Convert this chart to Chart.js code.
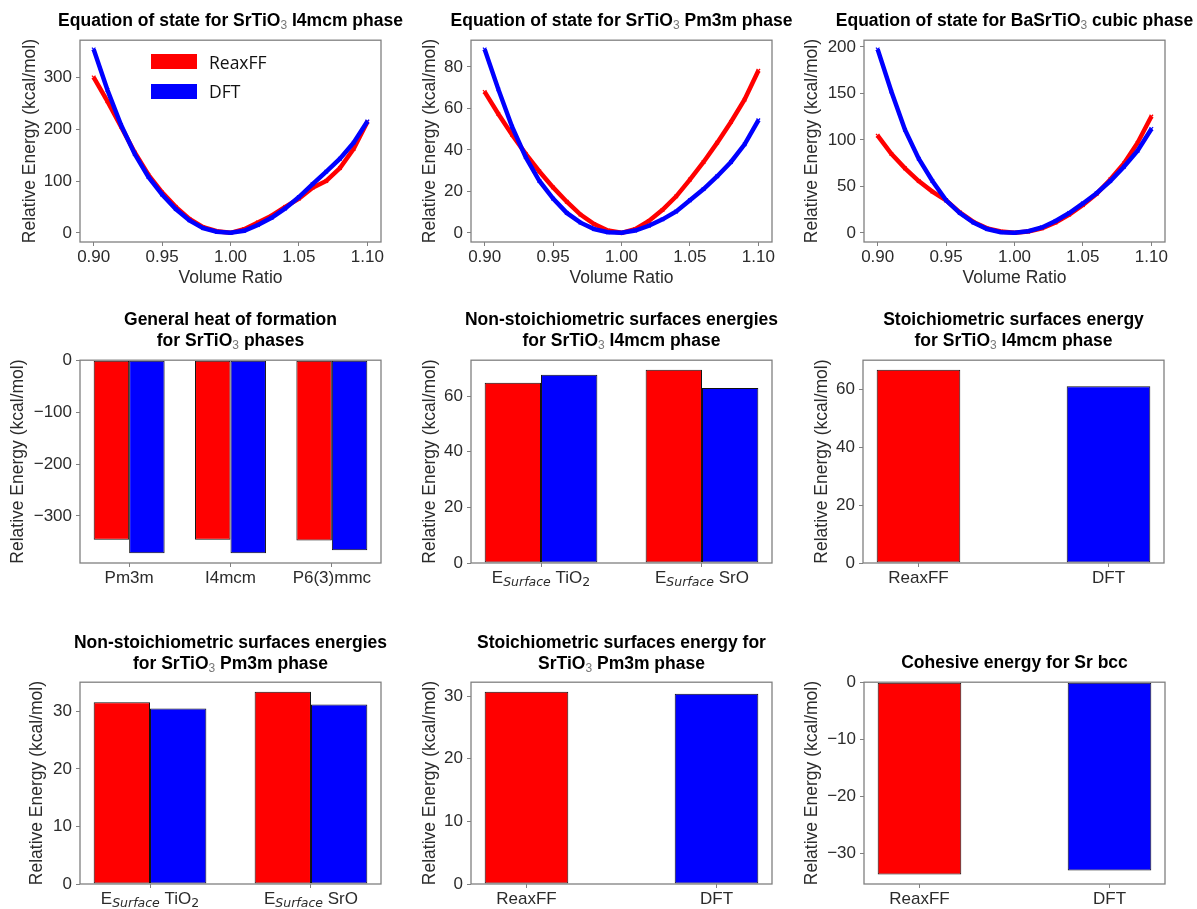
<!DOCTYPE html>
<html>
<head>
<meta charset="utf-8">
<script src="https://cdn.jsdelivr.net/npm/chart.js@4.4.0/dist/chart.umd.min.js"></script>
<style>
body { margin: 0; background: #fff; width: 1197px; height: 909px; position: relative; overflow: hidden;
       font-family: "Liberation Sans", Arial, sans-serif; }
canvas { position: absolute; }
.ttl { position: absolute; width: 420px; text-align: center; font-weight: bold; font-size: 17.5px;
       line-height: 21px; color: #000; white-space: nowrap; }
.ttl sub { font-weight: normal; font-size: 12px; color: #777; vertical-align: -3px; line-height: 0; }
.leg { position: absolute; display: flex; align-items: center; font-family: "Open Sans", sans-serif;
       font-size: 17.5px; color: #111; height: 15px; }
.leg span { display: inline-block; width: 46px; height: 15px; margin-right: 12px; }
</style>
</head>
<body>
<script>
// ---- data ----
const seriesNames = ["ReaxFF", "DFT"];
const seriesColors = ["#ff0000", "#0000ff"];

const volumeRatio = [0.90, 0.91, 0.92, 0.93, 0.94, 0.95, 0.96, 0.97, 0.98, 0.99, 1.00,
                     1.01, 1.02, 1.03, 1.04, 1.05, 1.06, 1.07, 1.08, 1.09, 1.10];
const volumeTicks = [0.90, 0.95, 1.00, 1.05, 1.10];

const eosI4mcmReax = [300, 254, 205, 155, 112, 78, 50, 27, 11, 3, 0, 7, 20, 33, 50, 66, 87, 100, 125, 162, 214];
const eosI4mcmDft  = [354, 276, 208, 152, 108, 74, 46, 24, 9, 2, 0, 4, 15, 29, 47, 69, 94, 118, 143, 174, 215];
const eosPm3mReax  = [68, 57.3, 47.3, 38.1, 29.6, 21.9, 15, 8.8, 4.2, 1.1, 0, 1.8, 5.7, 11.1, 17.6, 25.7, 34.2, 43.5, 53.5, 64.3, 78.2];
const eosPm3mDft   = [88.5, 69.2, 51.2, 36.5, 25, 16.5, 9.6, 4.9, 1.8, 0.3, 0, 1.1, 3.4, 6.5, 10.3, 15.7, 21.1, 27.3, 34.2, 42.7, 54.3];
const eosBstReax   = [104.5, 84.9, 69.4, 55.7, 44.3, 35, 22, 11.7, 4.8, 1.4, 0, 1.4, 4.8, 11, 19.6, 29.9, 41.9, 57.4, 74.6, 96.9, 125.1];
const eosBstDft    = [197.3, 152, 110.7, 79.7, 55.7, 35, 21.3, 11, 4.1, 0.7, 0, 1.7, 5.8, 12.7, 21.3, 31.6, 42.6, 55.7, 71.1, 88.3, 111.7];

const phases = ["Pm3m", "I4mcm", "P6(3)mmc"];
const heatReax = [-346, -346, -347.5];
const heatDft  = [-372, -372, -366];

const surfaceLabels = ["E_{Surface} TiO_2", "E_{Surface} SrO"];
const surfI4mcmReax = [64.8, 69.4];
const surfI4mcmDft  = [67.6, 62.9];
const surfPm3mReax  = [31.6, 33.4];
const surfPm3mDft   = [30.5, 31.2];

const stoichI4mcm = [66.7, 61.0];
const stoichPm3m  = [30.7, 30.4];
const cohesiveSr  = [-33.6, -32.9];

// ---- layout (plot boxes in page pixels) ----
const layout = [
    { box: [80, 32, 381, 242],   gap: 50, t: 20 },
    { box: [471, 32, 772, 242],  gap: 41, t: 20 },
    { box: [864, 32, 1165, 242], gap: 52, t: 20 },
    { box: [80, 352, 381, 563],  gap: 62, t: 319 },
    { box: [471, 352, 772, 563], gap: 41, t: 319 },
    { box: [863, 352, 1164, 563], gap: 41, t: 319 },
    { box: [80, 674, 381, 884],  gap: 43, t: 642 },
    { box: [471, 674, 772, 884], gap: 41, t: 642 },
    { box: [864, 674, 1165, 884], gap: 52, t: 662 }
];

Chart.defaults.font.family = '"Liberation Sans", Arial, sans-serif';
Chart.defaults.color = "#2b2b2b";
const TICK = 17, LAB = 17.5, edge = "#808080";

function fmt(v) {
    return v < 0 ? "\u2212" + Math.abs(v) : String(v);
}

function pad5(vals) {
    let lo = Math.min(...vals), hi = Math.max(...vals);
    let m = 0.05 * (hi - lo);
    return [lo - m, hi + m];
}

const frame = {
    id: "frame",
    afterDatasetsDraw(chart) {
        const { ctx, chartArea: a } = chart;
        ctx.save();
        ctx.strokeStyle = edge;
        ctx.lineWidth = 1.3;
        ctx.strokeRect(a.left, a.top, a.right - a.left, a.bottom - a.top);
        ctx.restore();
    }
};

// tick labels like "E_{Surface} TiO_2" with subscripts
const richTicks = {
    id: "richTicks",
    afterDraw(chart, args, opts) {
        if (!opts.labels) return;
        const ctx = chart.ctx, xs = chart.scales.x;
        const y = chart.chartArea.bottom + 15;
        opts.labels.forEach(function (lab, i) {
            let segs = [], re = /_\{([^}]*)\}|_(.)/g, last = 0, m;
            while ((m = re.exec(lab))) {
                if (m.index > last) segs.push({ s: lab.slice(last, m.index), sub: false });
                segs.push({ s: m[1] || m[2], sub: true });
                last = re.lastIndex;
            }
            if (last < lab.length) segs.push({ s: lab.slice(last), sub: false });
            ctx.save();
            ctx.fillStyle = "#2b2b2b";
            ctx.textBaseline = "middle";
            const fontOf = function (g) {
                if (!g.sub) return TICK + 'px "Liberation Sans", Arial, sans-serif';
                return (/[a-z]/i.test(g.s) ? "oblique " : "") + '12.5px "DejaVu Sans", sans-serif';
            };
            let total = 0;
            segs.forEach(function (g) { ctx.font = fontOf(g); g.w = ctx.measureText(g.s).width; total += g.w; });
            let x = xs.getPixelForValue(i) - total / 2;
            ctx.textAlign = "left";
            segs.forEach(function (g) {
                ctx.font = fontOf(g);
                ctx.fillText(g.s, x, g.sub ? y + 5 : y);
                x += g.w;
            });
            ctx.restore();
        });
    }
};

function build(i, cfg) {
    const p = layout[i];
    const L = p.box[0], T = p.box[1], R = p.box[2], B = p.box[3];
    const cv = document.createElement("canvas");
    cv.width = R - L + 90;
    cv.height = B - T + 58;
    cv.style.left = (L - 80) + "px";
    cv.style.top = (T - 6) + "px";
    document.body.appendChild(cv);

    const t = document.createElement("div");
    t.className = "ttl";
    t.innerHTML = cfg.title;
    t.style.left = ((L + R) / 2 - 210) + "px";
    t.style.top = (p.t - 10.5) + "px";
    document.body.appendChild(t);

    return new Chart(cv, {
        type: cfg.type,
        data: { datasets: cfg.datasets },
        plugins: [frame, richTicks],
        options: {
            responsive: false,
            animation: false,
            devicePixelRatio: 1,
            layout: { padding: { left: 0, top: 6, right: 10, bottom: 0 } },
            plugins: {
                legend: { display: false },
                tooltip: { enabled: false },
                richTicks: { labels: cfg.rich || null }
            },
            scales: {
                x: {
                    type: "linear",
                    min: cfg.xRange[0],
                    max: cfg.xRange[1],
                    offset: false,
                    afterFit: function (s) { s.height = 52; },
                    afterBuildTicks: function (s) { s.ticks = cfg.xTicks.map(v => ({ value: v })); },
                    ticks: { callback: cfg.xFmt, font: { size: TICK }, padding: 1, maxRotation: 0, autoSkip: false },
                    grid: { offset: false, drawOnChartArea: false, tickLength: 4, color: edge },
                    border: { display: false },
                    title: { display: !!cfg.xTitle, text: cfg.xTitle || "", font: { size: LAB },
                             padding: { top: 0, bottom: 5.5 } }
                },
                y: {
                    type: "linear",
                    min: cfg.yRange[0],
                    max: cfg.yRange[1],
                    afterFit: function (s) { s.width = 80; },
                    afterBuildTicks: function (s) { s.ticks = cfg.yTicks.map(v => ({ value: v })); },
                    ticks: { callback: fmt, font: { size: TICK }, padding: 4, autoSkip: false },
                    grid: { drawOnChartArea: false, tickLength: 4, color: edge },
                    border: { display: false },
                    title: { display: true, text: "Relative Energy (kcal/mol)", font: { size: LAB },
                             padding: { top: 80 - p.gap - LAB * 0.6, bottom: 0 } }
                }
            }
        }
    });
}

function lines(reax, dft) {
    const mk = (vals, k, order) => ({
        label: seriesNames[k],
        data: volumeRatio.map((x, j) => ({ x: x, y: vals[j] })),
        borderColor: seriesColors[k],
        backgroundColor: seriesColors[k],
        borderWidth: 4.5,
        tension: 0,
        pointStyle: "crossRot",
        pointRadius: 2.5,
        pointBorderWidth: 1.2,
        order: order
    });
    return [mk(reax, 0, 1), mk(dft, 1, 0)];
}

function eos(i, title, reax, dft, yTicks) {
    build(i, {
        type: "line", title: title,
        datasets: lines(reax, dft),
        xRange: [0.89, 1.11], xTicks: volumeTicks, xFmt: v => v.toFixed(2), xTitle: "Volume Ratio",
        yRange: pad5(reax.concat(dft)), yTicks: yTicks
    });
}

function xRangeFor(n, half) {
    const span = (n - 1) + 2 * half;
    return [-half - 0.05 * span, n - 1 + half + 0.05 * span];
}

function barRange(vals) {
    const lo = Math.min(0, ...vals), hi = Math.max(0, ...vals);
    return [lo * 1.05, hi * 1.05];
}

function grouped(i, title, cats, reax, dft, yTicks, rich) {
    const mk = (vals, k) => ({
        label: seriesNames[k],
        data: vals.map((y, j) => ({ x: j, y: y })),
        backgroundColor: seriesColors[k],
        borderColor: "#111",
        borderWidth: 1,
        borderSkipped: false,
        categoryPercentage: 0.7,
        barPercentage: 1
    });
    build(i, {
        type: "bar", title: title,
        datasets: [mk(reax, 0), mk(dft, 1)],
        xRange: xRangeFor(cats.length, 0.35), xTicks: cats.map((c, j) => j),
        xFmt: rich ? () => "" : v => cats[v],
        rich: rich ? cats : null,
        yRange: barRange(reax.concat(dft)), yTicks: yTicks
    });
}

function pair(i, title, vals, yTicks) {
    build(i, {
        type: "bar", title: title,
        datasets: [{
            data: vals.map((y, j) => ({ x: j, y: y })),
            backgroundColor: seriesColors,
            borderColor: "#111",
            borderWidth: 1,
            borderSkipped: false,
            categoryPercentage: 0.44,
            barPercentage: 1
        }],
        xRange: xRangeFor(2, 0.22), xTicks: [0, 1], xFmt: v => seriesNames[v],
        yRange: barRange(vals), yTicks: yTicks
    });
}

eos(0, "Equation of state for SrTiO<sub>3</sub> I4mcm phase", eosI4mcmReax, eosI4mcmDft, [0, 100, 200, 300]);
eos(1, "Equation of state for SrTiO<sub>3</sub> Pm3m phase", eosPm3mReax, eosPm3mDft, [0, 20, 40, 60, 80]);
eos(2, "Equation of state for BaSrTiO<sub>3</sub> cubic phase", eosBstReax, eosBstDft, [0, 50, 100, 150, 200]);
grouped(3, "General heat of formation<br>for SrTiO<sub>3</sub> phases", phases, heatReax, heatDft, [0, -100, -200, -300], false);
grouped(4, "Non-stoichiometric surfaces energies<br>for SrTiO<sub>3</sub> I4mcm phase", surfaceLabels, surfI4mcmReax, surfI4mcmDft, [0, 20, 40, 60], true);
pair(5, "Stoichiometric surfaces energy<br>for SrTiO<sub>3</sub> I4mcm phase", stoichI4mcm, [0, 20, 40, 60]);
grouped(6, "Non-stoichiometric surfaces energies<br>for SrTiO<sub>3</sub> Pm3m phase", surfaceLabels, surfPm3mReax, surfPm3mDft, [0, 10, 20, 30], true);
pair(7, "Stoichiometric surfaces energy for<br>SrTiO<sub>3</sub> Pm3m phase", stoichPm3m, [0, 10, 20, 30]);
pair(8, "Cohesive energy for Sr bcc", cohesiveSr, [0, -10, -20, -30]);

// legend inside the first panel
seriesNames.forEach(function (n, k) {
    const row = document.createElement("div");
    row.className = "leg";
    row.style.left = "151px";
    row.style.top = (54 + 29.5 * k) + "px";
    row.innerHTML = '<span style="background:' + seriesColors[k] + '"></span>' + n;
    document.body.appendChild(row);
});
</script>
</body>
</html>
